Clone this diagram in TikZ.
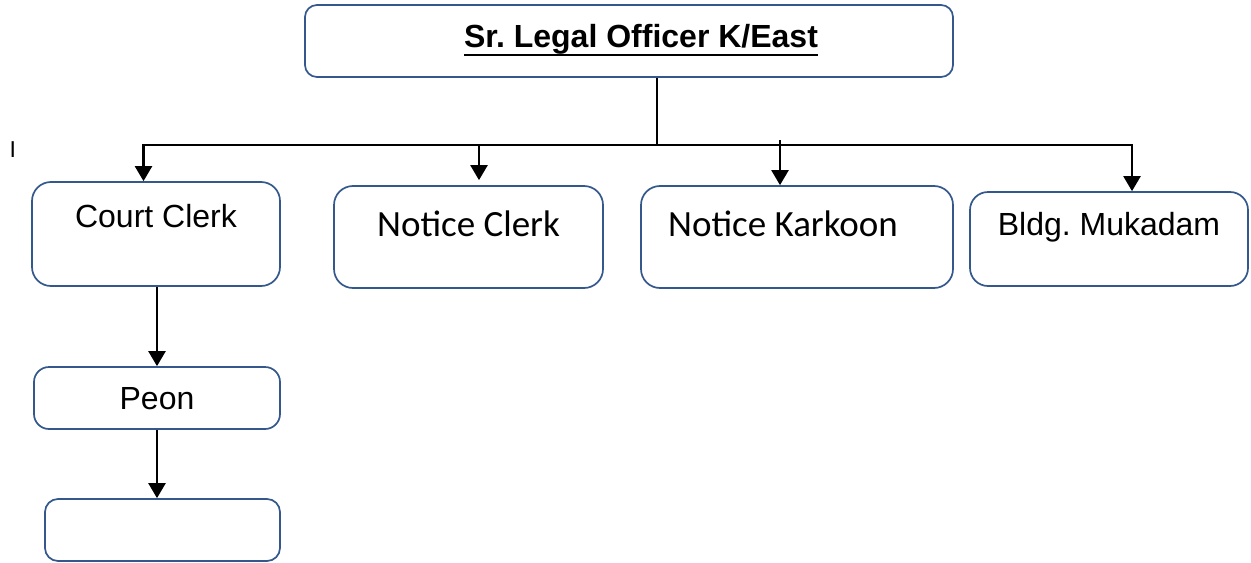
\documentclass[tikz,border=0pt]{standalone}
\usepackage{fontspec}
\setmainfont{Liberation Sans}
\newfontfamily\calibrifont{Carlito}
\usepackage{tikz}
\usetikzlibrary{arrows.meta,shapes}
\definecolor{boxblue}{RGB}{52,88,140}
\newcommand{\ulhead}[1]{\setbox0=\hbox{#1}\rlap{\rule[-9bp]{\wd0}{2.2bp}}\box0}
\frenchspacing

\begin{document}
\begin{tikzpicture}[>={Triangle[width=17bp,length=15bp]},
    post/.style={draw=boxblue,line width=1.7bp,rounded corners=19bp,inner sep=0pt,font=\fontsize{32bp}{38bp}\selectfont},
    calpost/.style={post,font=\fontsize{37bp}{44bp}\calibrifont},
    link/.style={line width=2.3bp}]

    \useasboundingbox (0bp,0bp) rectangle (1251bp,-563bp);

    \node (head) at (629bp,-41bp)[post,rounded corners=12bp,minimum width=648bp,text height=42bp,text depth=30bp] {\hspace*{24bp}\ulhead{\bfseries Sr. Legal Officer K/East}};
    \node (court) at (156bp,-234bp)[post,minimum width=248bp,text height=45bp,text depth=59bp] {Court Clerk};
    \node (nclerk) at (468.5bp,-237bp)[calpost,minimum width=269bp,text height=50bp,text depth=52bp] {Notice Clerk};
    \node (nkarkoon) at (797bp,-237bp)[calpost,minimum width=312bp,text height=50bp,text depth=52bp] {\hspace*{-28bp}Notice Karkoon};
    \node (mukadam) at (1109bp,-239bp)[post,rounded corners=18bp,minimum width=278bp,text height=43bp,text depth=51bp] {Bldg. Mukadam};
    \node (peon) at (157bp,-398bp)[post,rounded corners=15bp,minimum width=246bp,text height=42bp,text depth=20bp] {Peon};
    \node (blank) at (162.5bp,-530bp)[post,rounded corners=13bp,minimum width=235bp,text height=31bp,text depth=31bp] {};
    \node (stray) at (12.7bp,-157bp)[anchor=base,font=\fontsize{23bp}{27bp}\selectfont] {I};

    \coordinate (hub) at (657bp,-145bp);
    \coordinate (busL) at (143.5bp,-145bp);
    \coordinate (busR) at (1132bp,-145bp);
    \coordinate (dropNC) at (479bp,-144bp);
    \coordinate (dropNK) at (780bp,-140bp);

    \draw [link] (head.south -| hub) -- (hub);
    \draw [<->,link] (busL |- court.north) -- (busL) -- (busR) -- (busR |- mukadam.north);
    \draw [->,link,shorten >=5bp] (dropNC) -- (dropNC |- nclerk.north);
    \draw [->,link] (dropNK) -- (dropNK |- nkarkoon.north);
    \draw [->,link] (court.south -| peon.north) -- (peon.north);
    \draw [->,link] (peon.south) -- (peon.south |- blank.north);
\end{tikzpicture}
\end{document}
